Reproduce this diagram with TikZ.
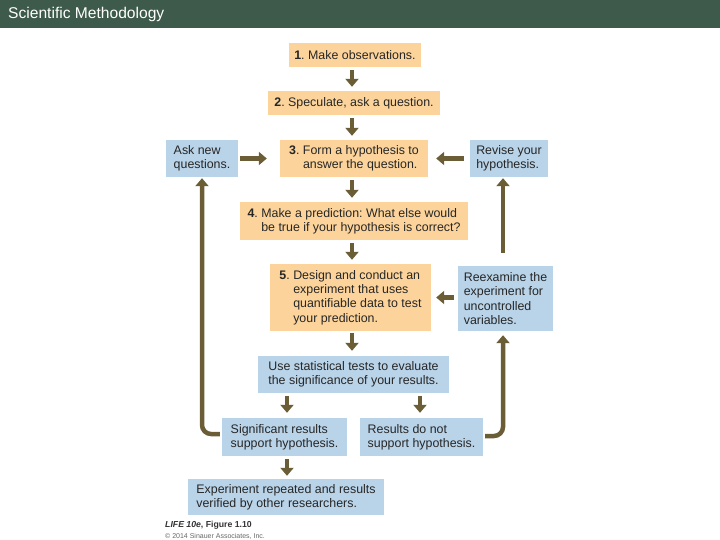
\documentclass[tikz,border=0pt]{standalone}
\usepackage{fontspec}
\setmainfont{Liberation Sans}
\usetikzlibrary{positioning,arrows.meta}
\definecolor{barGreen}{HTML}{3D5A4B}
\definecolor{stepOrange}{HTML}{FCD49B}
\definecolor{sideBlue}{HTML}{B9D3E8}
\definecolor{flowBrown}{HTML}{6B5D36}
\newcommand{\num}[1]{\textbf{#1}. }
\newcommand{\hang}[1]{\phantom{\textbf{#1}. }}
\frenchspacing

\begin{document}
\begin{tikzpicture}[x=1pt,y=-1pt,
  stepbox/.style={fill=stepOrange,draw=none,align=left,inner sep=5pt,font=\fontsize{12.4}{14.2}\selectfont,text=black!85},
  sidebox/.style={stepbox,fill=sideBlue},
  flow/.style={draw=flowBrown,line width=4.5pt,-{Triangle[width=13pt,length=8pt]}}]
\useasboundingbox (0,0) rectangle (720,540);
\fill[barGreen] (0,0) rectangle (720,28);
\node[anchor=west,text=white,font=\fontsize{15.6}{17}\selectfont,inner sep=0pt] (title) at (8,14) {Scientific Methodology};
% main column
\node[stepbox,minimum width=130pt,minimum height=24pt] (obs) at (355,55) {\num{1}Make observations.};
\node[stepbox,minimum width=172pt,minimum height=24pt] (spec) at (354,103) {\num{2}Speculate, ask a question.};
\node[stepbox,minimum width=148pt,minimum height=37pt] (hyp) at (354,158.5) {\num{3}Form a hypothesis to\\\hang{3}answer the question.};
\node[sidebox,minimum width=72pt,minimum height=37pt] (ask) at (202,158.5) {Ask new\\questions.};
\node[sidebox,minimum width=78pt,minimum height=37pt] (revise) at (509,158.5) {Revise your\\hypothesis.};
\node[stepbox,minimum width=228pt,minimum height=38pt] (pred) at (354,221) {\num{4}Make a prediction: What else would\\\hang{4}be true if your hypothesis is correct?};
\node[stepbox,minimum width=161pt,minimum height=67pt] (design) at (350.5,297.5) {\num{5}Design and conduct an\\\hang{5}experiment that uses\\\hang{5}quantifiable data to test\\\hang{5}your prediction.};
\node[sidebox,minimum width=95pt,minimum height=65pt] (reexam) at (505.5,298.5) {Reexamine the\\experiment for\\uncontrolled\\variables.};
\node[sidebox,minimum width=191pt,minimum height=37pt] (stats) at (353.5,374.5) {Use statistical tests to evaluate\\the significance of your results.};
\node[sidebox,minimum width=125pt,minimum height=38pt] (sig) at (284.5,437) {Significant results\\support hypothesis.};
\node[sidebox,minimum width=123pt,minimum height=38pt] (nosig) at (421.5,437) {Results do not\\support hypothesis.};
\node[sidebox,minimum width=196pt,minimum height=36pt] (repeat) at (286,497) {Experiment repeated and results\\verified by other researchers.};
% credit line
\node[anchor=west,inner sep=0pt,font=\fontsize{8.7}{10}\selectfont\bfseries,text=black!80] (fig) at (165,525) {\textit{LIFE 10e}, Figure 1.10};
\node[anchor=west,inner sep=0pt,font=\fontsize{7}{8}\selectfont,text=black!60] (copy) at (165,536) {© 2014 Sinauer Associates, Inc.};
% arrows down the middle
\draw[flow,shorten <=3pt,shorten >=4pt] ([xshift=-3pt]obs.south) -- ([xshift=-3pt]obs.south |- spec.north);
\draw[flow,shorten <=3pt,shorten >=4pt] ([xshift=-2pt]spec.south) -- ([xshift=-2pt]spec.south |- hyp.north);
\draw[flow,shorten <=3pt,shorten >=4pt] ([xshift=-2pt]hyp.south) -- ([xshift=-2pt]hyp.south |- pred.north);
\draw[flow,shorten <=3pt,shorten >=4pt] ([xshift=-2pt]pred.south) -- ([xshift=-2pt]pred.south |- design.north);
\draw[flow,shorten <=2pt,shorten >=5pt] ([xshift=1.5pt]design.south) -- ([xshift=1.5pt]design.south |- stats.north);
\draw[flow,shorten <=3pt,shorten >=5pt] (stats.south -| sig) ++(2.5pt,0) -- ([xshift=2.5pt]sig.north);
\draw[flow,shorten <=3pt,shorten >=5pt] (stats.south -| nosig) ++(-1.5pt,0) -- ([xshift=-1.5pt]nosig.north);
\draw[flow,shorten <=3pt,shorten >=3pt] ([xshift=2.5pt]sig.south) -- ([xshift=2.5pt]sig.south |- repeat.north);
% side arrows
\draw[flow,shorten <=2pt,shorten >=13pt] (ask) -- (hyp);
\draw[flow,shorten <=6pt,shorten >=8pt] (revise) -- (hyp);
\draw[flow,shorten <=4pt,shorten >=5pt] (reexam.west |- design) -- (design);
\draw[flow,shorten <=13pt,shorten >=1pt] ([xshift=-2.5pt]reexam.north) -- ([xshift=-2.5pt]reexam.north |- revise.south);
% feedback loops
\draw[flow,rounded corners=9pt,shorten <=2pt,shorten >=1pt] ([yshift=3pt]sig.west) -| (ask.south);
\draw[flow,rounded corners=9pt,shorten <=2pt,shorten >=4pt] ([yshift=1pt]nosig.east) -| ([xshift=-2.5pt]reexam.south);
\end{tikzpicture}
\end{document}
